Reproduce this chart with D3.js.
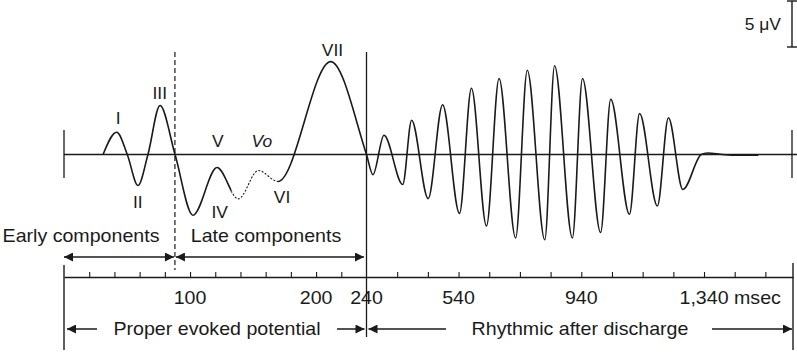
<!DOCTYPE html>
<html>
<head>
<meta charset="utf-8">
<script src="https://cdn.jsdelivr.net/npm/d3@7"></script>
<style>
  html, body { margin: 0; padding: 0; background: #fff; }
  svg { display: block; }
  text { font-family: "Liberation Sans", Arial, sans-serif; fill: #1a1a1a; }
</style>
</head>
<body>
<svg id="chart" width="797" height="352"></svg>
<script>
// ---- Data (time in msec, amplitude in microvolts) ----
const waveT = [31, 41.8, 50.2, 58.7, 66.6, 76.2, 88.1, 102.3, 121.4, 138.3, 154.2, 169.8, 211.6, 240,
  261, 297, 358, 387, 441, 488, 543, 582, 631, 672, 726, 764, 821, 853, 911, 944, 1003, 1036,
  1097, 1130, 1188, 1224, 1271, 1331, 1351, 1400, 1430, 1517];
const waveV = [0, 2.42, 0, -3.37, 0, 5.33, 0, -6.6, -1.42, -4.82, -1.74, -2.93, 10.1, 0,
  -2.2, 2.1, -3.26, 3.73, -4.8, 5.4, -6.4, 7.2, -7.76, 8.26, -9.07, 9.16, -9.27, 9.65, -9.07, 8.26, -8.48, 6.0,
  -6.5, 4.46, -5.6, 4.0, -3.8, 0, 0.17, 0, -0.08, -0.08];
const dashedSpan = [133, 169.8];          // portion of the curve drawn dashed

const componentNames = ["I", "II", "III", "IV", "V", "Vo", "VI", "VII"];
const componentT     = [43, 58.5, 76, 123.5, 122, 157, 173, 213];
const componentV     = [3.35, -5.8, 6.05, -6.9, 0.8, 0.8, -5.3, 10.7];

const minorTicks = [20, 40, 60, 80, 100, 120, 140, 160, 180, 200, 220,
  340, 440, 540, 640, 740, 840, 940, 1040, 1140, 1240, 1340, 1440, 1540];
const tickLabels = [100, 200, 240, 540, 940, 1340];
const tickText   = ["100", "200", "240", "540", "940", "1,340"];

const earlyLateBoundary = 88;   // msec
const evokedEnd = 240;          // msec
const scaleBarValue = 5;        // microvolts

// ---- Scales ----
const x = d3.scaleLinear().domain([0, 240, 1630]).range([64, 366.5, 793]);
const y = d3.scaleLinear().domain([0, 5]).range([154.5, 108.5]);

const svg = d3.select("#chart");
const ink = "#1a1a1a";
const SX = 1.09;

function label(str, px, py, size, anchor, italic) {
  const t = svg.append("text")
    .attr("transform", `translate(${px},${py}) scale(${SX},1)`)
    .attr("font-size", size)
    .attr("text-anchor", anchor || "middle")
    .text(str);
  if (italic) t.attr("font-style", "italic");
  return t;
}

// arrowhead marker defs
const defs = svg.append("defs");
defs.append("marker").attr("id", "ah").attr("viewBox", "0 0 10 10")
  .attr("refX", 10).attr("refY", 5).attr("markerWidth", 10).attr("markerHeight", 9)
  .attr("markerUnits", "userSpaceOnUse").attr("orient", "auto-start-reverse")
  .append("path").attr("d", "M0,0L10,5L0,10Z").attr("fill", ink);

// ---- Baseline of the trace ----
svg.append("line").attr("x1", x(0)).attr("x2", 797).attr("y1", y(0)).attr("y2", y(0))
  .attr("stroke", ink).attr("stroke-width", 1.3);
svg.append("line").attr("x1", x(0)).attr("x2", x(0)).attr("y1", 130).attr("y2", 178)
  .attr("stroke", ink).attr("stroke-width", 1.3);
svg.append("line").attr("x1", 792).attr("x2", 792).attr("y1", 130).attr("y2", 178)
  .attr("stroke", ink).attr("stroke-width", 1.3);

// ---- Waveform ----
const pts = waveT.map((t, i) => [t, waveV[i]]);
const lineGen = d3.line().x(d => x(d[0])).y(d => y(d[1])).curve(d3.curveMonotoneX);
const dA = x(dashedSpan[0]), dB = x(dashedSpan[1]);
defs.append("clipPath").attr("id", "solidClip").selectAll("rect")
  .data([[0, dA], [dB, 797]]).join("rect")
  .attr("x", d => d[0]).attr("width", d => d[1] - d[0]).attr("y", 0).attr("height", 352);
defs.append("clipPath").attr("id", "dashClip").append("rect")
  .attr("x", dA).attr("width", dB - dA).attr("y", 0).attr("height", 352);

svg.append("path").datum(pts).attr("d", lineGen).attr("fill", "none")
  .attr("stroke", ink).attr("stroke-width", 1.6).attr("clip-path", "url(#solidClip)");
svg.append("path").datum(pts).attr("d", lineGen).attr("fill", "none")
  .attr("stroke", ink).attr("stroke-width", 1.1).attr("stroke-dasharray", "2,1.6")
  .attr("clip-path", "url(#dashClip)");

// ---- Component labels ----
componentNames.forEach((n, i) => {
  label(n, x(componentT[i]), y(componentV[i]), 16, "middle", n === "Vo");
});

// ---- Vertical separators ----
svg.append("line").attr("x1", x(earlyLateBoundary)).attr("x2", x(earlyLateBoundary))
  .attr("y1", 52).attr("y2", 270).attr("stroke", ink).attr("stroke-width", 1.2)
  .attr("stroke-dasharray", "5,3");
svg.append("line").attr("x1", x(evokedEnd)).attr("x2", x(evokedEnd))
  .attr("y1", 52).attr("y2", 337).attr("stroke", ink).attr("stroke-width", 1.3);

// ---- Early / late component arrows ----
function arrow(x1, x2, yy, startHead, endHead) {
  const l = svg.append("line").attr("x1", x1).attr("x2", x2).attr("y1", yy).attr("y2", yy)
    .attr("stroke", ink).attr("stroke-width", 1.5);
  if (startHead) l.attr("marker-start", "url(#ah)");
  if (endHead) l.attr("marker-end", "url(#ah)");
}
arrow(x(0), x(earlyLateBoundary) - 1, 257, true, true);
arrow(x(earlyLateBoundary) + 1, x(evokedEnd) - 2.5, 257, true, true);
label("Early components", 81, 242, 18, "middle");
label("Late components", 266, 242, 18, "middle");

// ---- Time axis ----
const axisY = 277;
const axis = svg.append("g").attr("transform", `translate(0,${axisY})`)
  .call(d3.axisTop(x).tickValues(minorTicks).tickSize(5).tickSizeOuter(0).tickFormat(""));
axis.select(".domain").attr("stroke", ink).attr("stroke-width", 1.4);
axis.selectAll(".tick line").attr("stroke", ink).attr("stroke-width", 1.1);
svg.append("line").attr("x1", x(0)).attr("x2", x(0)).attr("y1", 265).attr("y2", 350)
  .attr("stroke", ink).attr("stroke-width", 1.4);
svg.append("line").attr("x1", x(1630)).attr("x2", x(1630)).attr("y1", 263).attr("y2", 350)
  .attr("stroke", ink).attr("stroke-width", 1.4);

tickLabels.forEach((v, i) => {
  if (i === tickLabels.length - 1) {
    const t = label("", x(v), 304, 18, "start");
    const a = t.append("tspan").text(tickText[i]);
    t.append("tspan").text(" msec");
    const w = a.node().getComputedTextLength() * SX;
    t.attr("transform", `translate(${x(v) - w / 2},304) scale(${SX},1)`);
  } else {
    label(tickText[i], x(v), 304, 18, "middle");
  }
});

// ---- Proper evoked / rhythmic after discharge ----
const rowY = 329;
arrow(97, x(0) + 3, rowY, false, true);
label("Proper evoked potential", 217, 335, 18, "middle");
arrow(337, x(evokedEnd) - 2, rowY, false, true);
arrow(446, x(evokedEnd) + 2, rowY, false, true);
label("Rhythmic after discharge", 580, 335, 18, "middle");
arrow(712, x(1630) - 1, rowY, false, true);

// ---- Scale bar ----
const barH = y(0) - y(scaleBarValue);
svg.append("line").attr("x1", 792).attr("x2", 792).attr("y1", 1).attr("y2", 1 + barH)
  .attr("stroke", ink).attr("stroke-width", 1.4);
[1, 1 + barH].forEach(yy => svg.append("line").attr("x1", 787).attr("x2", 797)
  .attr("y1", yy).attr("y2", yy).attr("stroke", ink).attr("stroke-width", 1.4));
label(scaleBarValue + " \u03BCV", 781, 30, 16, "end");
</script>
</body>
</html>
